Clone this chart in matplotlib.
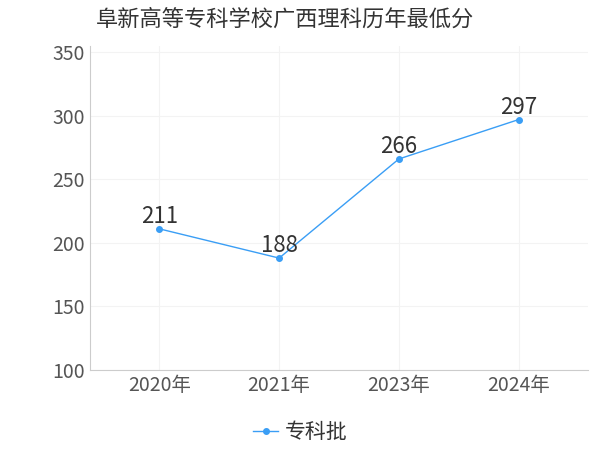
import matplotlib.pyplot as plt

plt.rcParams['font.family'] = 'Noto Sans CJK SC'

years = ['2020年', '2021年', '2023年', '2024年']
scores = [211, 188, 266, 297]
series_name = '专科批'
title = '阜新高等专科学校广西理科历年最低分'

fig = plt.figure(figsize=(6, 4.5), dpi=100)
ax = fig.add_axes([0.15, 0.178, 0.83, 0.72])
color = '#3a9ef5'
x = range(len(years))
ax.plot(x, scores, color=color, linewidth=1, marker='o', markersize=4, label=series_name)
for i, v in enumerate(scores):
    ax.text(i, v + 0.5, str(v), ha='center', va='bottom', fontsize=16, color='#333333')

ax.set_xlim(-0.58, 3.58)
ax.set_ylim(100, 355)
ax.set_yticks(range(100, 351, 50))
ax.set_xticks(list(x))
ax.set_xticklabels(years)
ax.tick_params(axis='both', labelsize=14, colors='#555555', length=0)
ax.grid(color='#f3f3f3', linewidth=0.8)
for s in ['top', 'right']:
    ax.spines[s].set_visible(False)
for s in ['left', 'bottom']:
    ax.spines[s].set_color('#cccccc')

fig.text(0.16, 0.958, title, fontsize=16, color='#333333', ha='left', va='center')
fig.legend(loc='center', bbox_to_anchor=(0.5, 0.04), frameon=False, fontsize=15,
           handlelength=1.2, handletextpad=0.3, labelcolor='#333333')
fig.savefig('out.png')
